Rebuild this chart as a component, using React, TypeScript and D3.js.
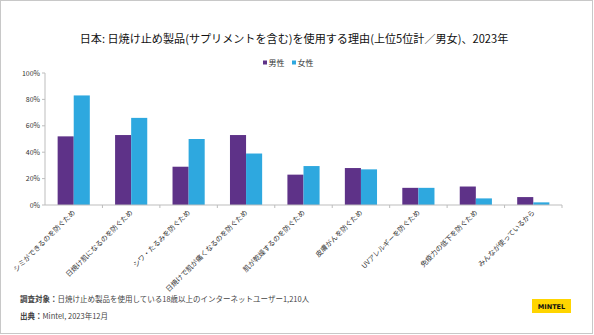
import React from "react";
import * as d3 from "d3";

const categories = [
  "シミができるのを防ぐため",
  "日焼け肌になるのを防ぐため",
  "シワ・たるみを防ぐため",
  "日焼けで肌が痛くなるのを防ぐため",
  "肌が乾燥するのを防ぐため",
  "皮膚がんを防ぐため",
  "UVアレルギーを防ぐため",
  "免疫力の低下を防ぐため",
  "みんなが使っているから",
];
const male = [52, 53, 29, 53, 23, 28, 13, 14, 6];
const female = [83, 66, 50, 39, 29.5, 27, 13, 5, 2];
const seriesNames = ["男性", "女性"];
const yTicks = [0, 20, 40, 60, 80, 100];

const W = 594;
const H = 335;
const colors = ["#5e3288", "#2ea8df"];
const font = "'Noto Sans CJK JP', 'Noto Sans', sans-serif";

export default function App() {
  const left = 45, right = 562, top = 73, bottom = 205;
  const x = d3.scaleBand<string>().domain(categories).range([left, right]).paddingInner(0.44).paddingOuter(0.22);
  const y = d3.scaleLinear().domain([0, 100]).range([bottom, top]);
  const bw = x.bandwidth() / 2;
  const step = x.step();
  const series = [male, female];

  return (
    <svg width={W} height={H} style={{ position: "fixed", left: 0, top: 0, background: "#fff" }} fontFamily={font}>
      <rect x={0.5} y={0.5} width={W - 2} height={H - 2} fill="#fff" stroke="#c8c8c8" />
      <text x={294} y={43} textAnchor="middle" fontSize={11.1} fill="#111">
        日本: 日焼け止め製品(サプリメントを含む)を使用する理由(上位5位計／男女)、2023年
      </text>
      {/* legend */}
      {seriesNames.map((n, i) => (
        <g key={n} transform={`translate(${263 + i * 29},63)`}>
          <rect x={0} y={-2.5} width={4} height={4} fill={colors[i]} />
          <text x={5.5} y={3} fontSize={8} fill="#333">{n}</text>
        </g>
      ))}
      {/* y axis */}
      <line x1={left} x2={left} y1={top} y2={bottom} stroke="#bdbdbd" />
      {yTicks.map((t) => (
        <g key={t}>
          <line x1={left - 3} x2={left} y1={y(t)} y2={y(t)} stroke="#bdbdbd" />
          <text x={left - 5} y={y(t) + 2.5} textAnchor="end" fontSize={7} fill="#333">{t}%</text>
        </g>
      ))}
      {/* bars */}
      {categories.map((c, i) => (
        <g key={c}>
          {series.map((s, j) => (
            <rect key={j} x={(x(c) as number) + j * bw} y={y(s[i])} width={bw} height={y(0) - y(s[i])} fill={colors[j]} />
          ))}
        </g>
      ))}
      {/* x axis */}
      <line x1={left} x2={right} y1={bottom} y2={bottom} stroke="#bdbdbd" />
      {categories.map((c, i) => (
        <line key={c} x1={left + step * (i + 1)} x2={left + step * (i + 1)} y1={bottom} y2={bottom + 3} stroke="#bdbdbd" />
      ))}
      {categories.map((c) => {
        const cx = (x(c) as number) + x.bandwidth() / 2;
        return (
          <text key={c} transform={`translate(${cx + 2},${bottom + 8}) rotate(-45)`} textAnchor="end" fontSize={7} fill="#333">
            {c}
          </text>
        );
      })}
      {/* footer */}
      <text x={20} y={302} fontSize={7.5} fill="#444">
        <tspan fontWeight="bold">調査対象：</tspan>日焼け止め製品を使用している18歳以上のインターネットユーザー1,210人
      </text>
      <text x={20} y={319} fontSize={7.5} fill="#444">
        <tspan fontWeight="bold">出典：</tspan>Mintel, 2023年12月
      </text>
      <rect x={532} y={299} width={39} height={14} fill="#ffd500" />
      <text x={551.5} y={309} textAnchor="middle" fontSize={6.5} fontWeight="bold" fill="#111" fontFamily="'DejaVu Sans', sans-serif">MINTEL</text>
    </svg>
  );
}
